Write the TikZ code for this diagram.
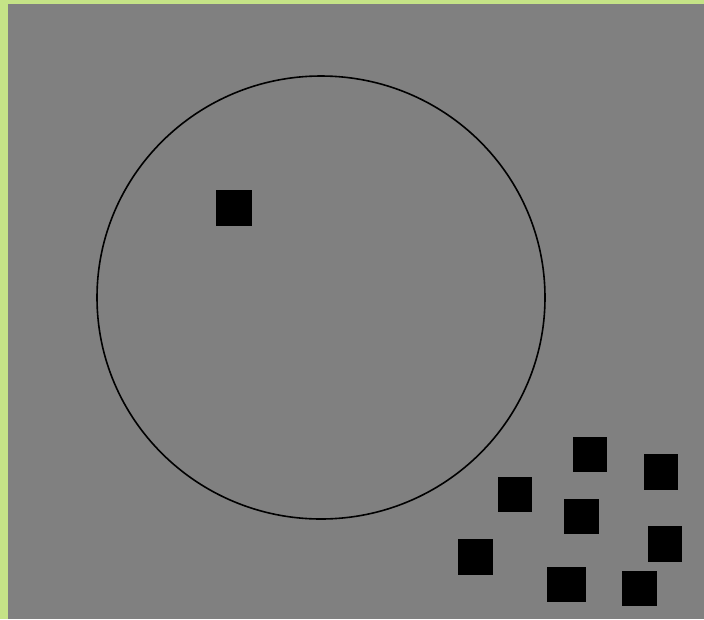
\documentclass[tikz,border=0pt]{standalone}
\definecolor{bordergreen}{RGB}{197,227,135}
\definecolor{bggray}{RGB}{128,128,128}
\tikzset{blk/.style={fill=black,draw=none}}
\begin{document}
\begin{tikzpicture}[x=1pt,y=-1pt]
\useasboundingbox (0,0) rectangle (704,619);
\fill[bordergreen] (0,0) rectangle (704,619);
\fill[bggray] (8,4) rectangle (704,619);
\draw[line width=1.6pt] (321,297.5) ellipse [x radius=224, y radius=221.5];
\fill[blk] (216,190) rectangle (252,226);
\fill[blk] (573,437) rectangle (607,472);
\fill[blk] (644,454) rectangle (678,490);
\fill[blk] (498,477) rectangle (532,512);
\fill[blk] (564,499) rectangle (599,534);
\fill[blk] (458,539) rectangle (493,575);
\fill[blk] (648,526) rectangle (682,562);
\fill[blk] (547,567) rectangle (586,602);
\fill[blk] (622,571) rectangle (657,606);
\end{tikzpicture}
\end{document}
